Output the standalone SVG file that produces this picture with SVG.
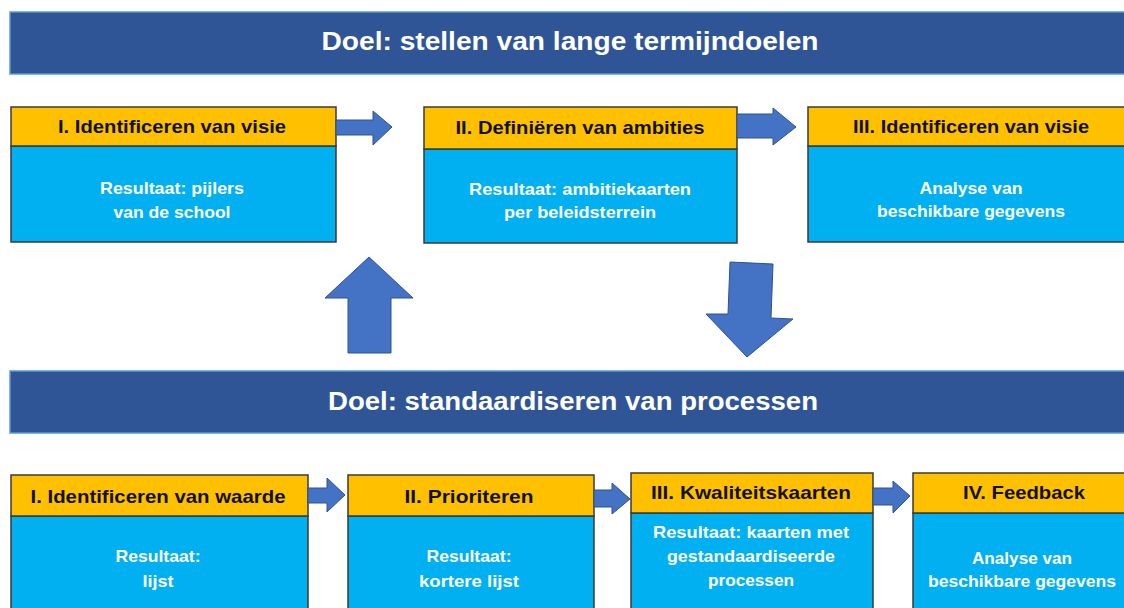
<svg xmlns="http://www.w3.org/2000/svg" width="1124" height="608" viewBox="0 0 1124 608">
<style>
.banner{fill:#2F5597;stroke:#5B9BD5;stroke-width:1.5}
.bt{font-family:"Liberation Sans",Arial,sans-serif;font-weight:bold;font-size:25px;fill:#fff;text-anchor:middle}
.hd{fill:#FFC000;stroke:#3a3a3a;stroke-width:1.5}
.bd{fill:#00B0F0;stroke:#3a3a3a;stroke-width:1.5}
.ht{font-family:"Liberation Sans",Arial,sans-serif;font-weight:bold;font-size:19px;fill:#111;text-anchor:middle}
.tt{font-family:"Liberation Sans",Arial,sans-serif;font-weight:bold;font-size:16.5px;fill:#fff;text-anchor:middle}
.arr{fill:#4472C4;stroke:#2F528F;stroke-width:1}
</style>
<rect width="1124" height="608" fill="#fff"/>
<g id="banner1">
<rect class="banner" x="10" y="12" width="1120" height="62"/>
<text class="bt" x="570" y="50" textLength="497" lengthAdjust="spacingAndGlyphs">Doel: stellen van lange termijndoelen</text>
</g>
<g id="banner2">
<rect class="banner" x="10" y="371" width="1120" height="62"/>
<text class="bt" x="573" y="410" textLength="490" lengthAdjust="spacingAndGlyphs">Doel: standaardiseren van processen</text>
</g>
<g id="top1">
<rect class="bd" x="11" y="146" width="325" height="96"/>
<rect class="hd" x="11" y="107" width="325" height="39"/>
<text class="ht" x="172" y="133" textLength="228" lengthAdjust="spacingAndGlyphs">I. Identificeren van visie</text>
<text class="tt" x="172" y="194" textLength="144" lengthAdjust="spacingAndGlyphs">Resultaat: pijlers</text>
<text class="tt" x="172" y="218" textLength="117" lengthAdjust="spacingAndGlyphs">van de school</text>
</g>
<g id="top2">
<rect class="bd" x="424" y="149" width="313" height="94"/>
<rect class="hd" x="424" y="107" width="313" height="42"/>
<text class="ht" x="580" y="134" textLength="249" lengthAdjust="spacingAndGlyphs">II. Definiëren van ambities</text>
<text class="tt" x="580" y="195" textLength="222" lengthAdjust="spacingAndGlyphs">Resultaat: ambitiekaarten</text>
<text class="tt" x="580" y="218" textLength="152" lengthAdjust="spacingAndGlyphs">per beleidsterrein</text>
</g>
<g id="top3">
<rect class="bd" x="808" y="146" width="320" height="96"/>
<rect class="hd" x="808" y="107" width="320" height="39"/>
<text class="ht" x="971" y="133" textLength="236" lengthAdjust="spacingAndGlyphs">III. Identificeren van visie</text>
<text class="tt" x="971" y="194" textLength="103" lengthAdjust="spacingAndGlyphs">Analyse van</text>
<text class="tt" x="971" y="217" textLength="188" lengthAdjust="spacingAndGlyphs">beschikbare gegevens</text>
</g>
<g id="bot1">
<rect class="bd" x="11" y="516" width="297" height="110"/>
<rect class="hd" x="11" y="475" width="297" height="41"/>
<text class="ht" x="158" y="503" textLength="255" lengthAdjust="spacingAndGlyphs">I. Identificeren van waarde</text>
<text class="tt" x="158" y="562" textLength="85" lengthAdjust="spacingAndGlyphs">Resultaat:</text>
<text class="tt" x="158" y="587" textLength="31" lengthAdjust="spacingAndGlyphs">lijst</text>
</g>
<g id="bot2">
<rect class="bd" x="348" y="516" width="246" height="110"/>
<rect class="hd" x="348" y="475" width="246" height="41"/>
<text class="ht" x="469" y="503" textLength="129" lengthAdjust="spacingAndGlyphs">II. Prioriteren</text>
<text class="tt" x="469" y="562" textLength="85" lengthAdjust="spacingAndGlyphs">Resultaat:</text>
<text class="tt" x="469" y="587" textLength="100" lengthAdjust="spacingAndGlyphs">kortere lijst</text>
</g>
<g id="bot3">
<rect class="bd" x="631" y="513" width="242" height="113"/>
<rect class="hd" x="631" y="473" width="242" height="40"/>
<text class="ht" x="751" y="499" textLength="200" lengthAdjust="spacingAndGlyphs">III. Kwaliteitskaarten</text>
<text class="tt" x="751" y="538" textLength="196" lengthAdjust="spacingAndGlyphs">Resultaat: kaarten met</text>
<text class="tt" x="751" y="562" textLength="168" lengthAdjust="spacingAndGlyphs">gestandaardiseerde</text>
<text class="tt" x="751" y="586" textLength="86" lengthAdjust="spacingAndGlyphs">processen</text>
</g>
<g id="bot4">
<rect class="bd" x="913" y="513" width="215" height="113"/>
<rect class="hd" x="913" y="473" width="215" height="40"/>
<text class="ht" x="1024" y="499" textLength="122" lengthAdjust="spacingAndGlyphs">IV. Feedback</text>
<text class="tt" x="1022" y="564" textLength="100" lengthAdjust="spacingAndGlyphs">Analyse van</text>
<text class="tt" x="1022" y="587" textLength="188" lengthAdjust="spacingAndGlyphs">beschikbare gegevens</text>
</g>
<g id="connectors">
<polygon class="arr" points="336,120 373,120 373,111 392,127 373,145 373,135 336,135"/>
<polygon class="arr" points="737,114 773,114 773,108 796,127 773,145 773,138 737,138"/>
<polygon class="arr" points="369,257 413,298 391,298 391,353 348,353 348,298 325,298"/>
<polygon class="arr" points="730,262 773,264 771,318 793,319 747,357 706,314 728,314"/>
<polygon class="arr" points="308,488 327,488 327,478 345,495 327,512 327,503 308,503"/>
<polygon class="arr" points="594,490 612,490 612,483 630,499 612,514 612,507 594,507"/>
<polygon class="arr" points="873,488 893,488 893,481 910,496 893,513 893,505 873,505"/>
</g>
</svg>
